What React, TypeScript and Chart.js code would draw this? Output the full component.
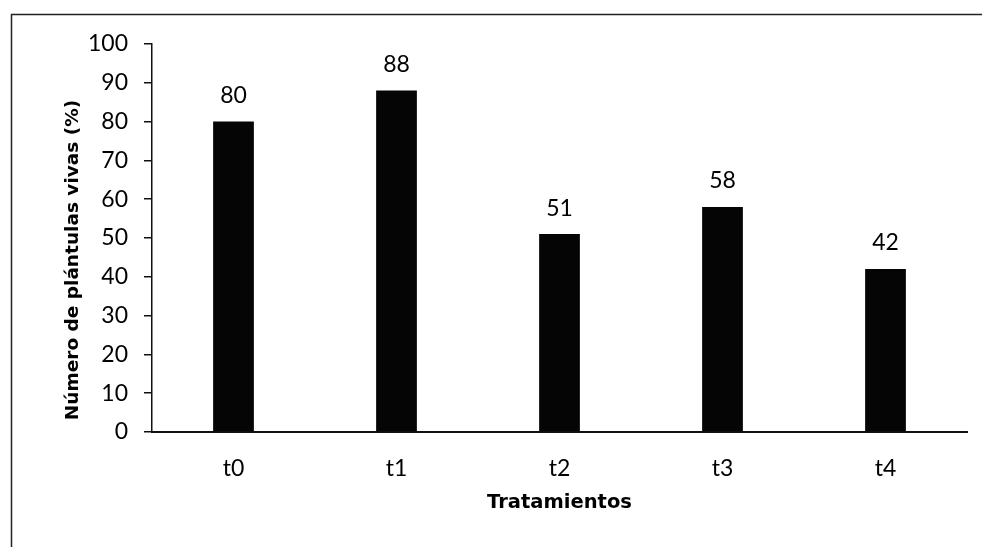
import React, { useEffect, useRef } from "react";
import { Chart, registerables } from "chart.js";

Chart.register(...registerables);

const categories = ["t0", "t1", "t2", "t3", "t4"];
const values = [80, 88, 51, 58, 42];
const yTitle = "Número de plántulas vivas (%)";
const xTitle = "Tratamientos";

const FONT = "Lato, 'DejaVu Sans', sans-serif";
const TITLE_FONT = "'DejaVu Sans', sans-serif";

export default function App() {
  const ref = useRef<HTMLCanvasElement | null>(null);

  useEffect(() => {
    if (!ref.current) return;
    const framePlugin = {
      id: "frame",
      beforeDraw(chart: any) {
        const ctx = chart.ctx;
        ctx.save();
        ctx.fillStyle = "#ffffff";
        ctx.fillRect(0, 0, chart.width, chart.height);
        ctx.strokeStyle = "#222";
        ctx.lineWidth = 1.5;
        ctx.beginPath();
        ctx.moveTo(11.5, chart.height);
        ctx.lineTo(11.5, 14.5);
        ctx.lineTo(chart.width, 14.5);
        ctx.stroke();
        ctx.restore();
      },
      afterDraw(chart: any) {
        const ctx = chart.ctx;
        const area = chart.chartArea;
        ctx.save();
        ctx.translate(73, (area.top + area.bottom) / 2 + 22);
        ctx.rotate(-Math.PI / 2);
        ctx.fillStyle = "#000";
        ctx.font = `bold 18.5px ${TITLE_FONT}`;
        ctx.textAlign = "center";
        ctx.textBaseline = "middle";
        ctx.fillText(yTitle, 0, 0);
        ctx.restore();
      },
    };
    const labelPlugin = {
      id: "valueLabels",
      afterDatasetsDraw(chart: any) {
        const ctx = chart.ctx;
        const meta = chart.getDatasetMeta(0);
        ctx.save();
        ctx.fillStyle = "#000";
        ctx.font = `23px ${FONT}`;
        ctx.textAlign = "center";
        ctx.textBaseline = "middle";
        meta.data.forEach((bar: any, i: number) => {
          ctx.fillText(String(values[i]), bar.x, bar.y - 26);
        });
        ctx.restore();
      },
    };
    const chart = new Chart(ref.current, {
      type: "bar",
      data: {
        labels: categories,
        datasets: [
          {
            data: values,
            backgroundColor: "#050505",
            borderWidth: 0,
            categoryPercentage: 1,
            barPercentage: 0.25,
          },
        ],
      },
      options: {
        responsive: false,
        animation: false,
        layout: { padding: { left: 62, top: 44, right: 15, bottom: 0 } },
        plugins: { legend: { display: false }, tooltip: { enabled: false } },
        scales: {
          x: {
            grid: { display: true, drawOnChartArea: false, drawTicks: false, color: "rgba(0,0,0,0)" },
            border: { display: true, color: "#111", width: 2 },
            ticks: { color: "#000", font: { family: FONT, size: 23 }, padding: 23 },
            title: {
              display: true,
              text: xTitle,
              color: "#000",
              font: { family: TITLE_FONT, size: 19.5, weight: "bold" },
              padding: { top: 0, bottom: 32 },
            },
            afterFit(scale: any) {
              scale.height = 547 - 432;
            },
          },
          y: {
            min: 0,
            max: 100,
            ticks: { stepSize: 10, color: "#000", font: { family: FONT, size: 23 }, padding: 16 },
            grid: { display: true, drawOnChartArea: false, drawTicks: true, tickLength: 8, color: "#111", lineWidth: 1.5 },
            border: { display: true, color: "#111", width: 1.5 },
            title: { display: false },
            afterFit(scale: any) {
              scale.width = 152 - 62;
            },
          },
        },
      },
      plugins: [framePlugin, labelPlugin],
    });
    return () => chart.destroy();
  }, []);

  return (
    <div style={{ position: "fixed", left: 0, top: 0, width: 982, height: 547, background: "#fff" }}>
      <canvas ref={ref} width={982} height={547} style={{ display: "block" }} />
    </div>
  );
}
